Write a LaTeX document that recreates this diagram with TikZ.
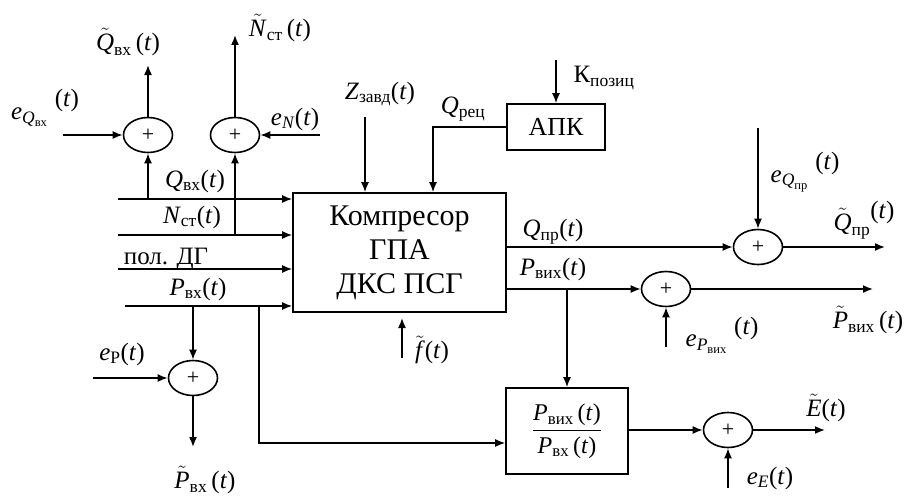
\RequirePackage{fix-cm}
\documentclass[tikz,border=0pt]{standalone}
\usepackage{amsmath}
\usepackage{fontspec}
\setmainfont{Liberation Serif}
\usetikzlibrary{arrows.meta,shapes.geometric}
\newcommand\iv[1]{\textit{#1}}
\newcommand\sv[2]{\iv{#1}$_{\text{#2}}$}
\newcommand\tv[2]{$\tilde{\text{\iv{#1}}}_{\text{#2}}$}
\begin{document}
\begin{tikzpicture}[x=1pt,y=-1pt,
  ln/.style={line width=1.6pt},
  ar/.style={ln,-{Latex[length=10pt,width=8pt]}},
  sumn/.style={ellipse,draw,line width=1.6pt,minimum width=49pt,minimum height=35pt,inner sep=0pt,font=\fontsize{22}{22}\selectfont},
  blk/.style={rectangle,draw,line width=1.6pt,inner sep=0pt},
  lbl/.style={inner sep=0pt,font=\fontsize{25}{28}\selectfont}]
\useasboundingbox (0,0) rectangle (909,495);
% blocks
\node[blk,minimum width=213pt,minimum height=119pt,align=center,font=\fontsize{30}{34}\selectfont] (M) at (399.5,252.5) {Компресор\\ГПА\\ДКС ПСГ};
\node[blk,minimum width=98pt,minimum height=46pt,font=\fontsize{26}{28}\selectfont] (A) at (556,127) {АПК};
\node[blk,minimum width=122pt,minimum height=86pt,font=\fontsize{24}{26}\selectfont] (R) at (567,431) {$\dfrac{\text{\iv{P}$_{\text{вих}}$\,(\iv{t})}}{\text{\iv{P}$_{\text{вх}}$\,(\iv{t})}}$};
% summators
\node[sumn] (S1) at (148,135) {+};
\node[sumn] (S2) at (235,135) {+};
\node[sumn] (S3) at (758,247) {+};
\node[sumn] (S4) at (666,289) {+};
\node[sumn] (S5) at (728,430) {+};
\node[sumn] (S6) at (193,378) {+};
% free ends
\coordinate (q0) at (118,199); \coordinate (q1) at (148,199);
\coordinate (n0) at (118,235); \coordinate (n1) at (235,235);
\coordinate (d0) at (118,269);
\coordinate (p0) at (125,306); \coordinate (p1) at (193,306); \coordinate (p2) at (259,306);
\coordinate (eqi) at (63,135); \coordinate (qvo) at (148,65);
\coordinate (eni) at (320,135); \coordinate (nvo) at (235,35);
\coordinate (z0) at (365,117); \coordinate (qr) at (433,0);
\coordinate (k0) at (556,60);
\coordinate (f0) at (402,358); \coordinate (f1) at (402,318);
\coordinate (qpr) at (885,247); \coordinate (eq) at (758,128);
\coordinate (pvo) at (873,289); \coordinate (ep) at (666,347); \coordinate (pb) at (567,289);
\coordinate (eo) at (825,430); \coordinate (ee) at (728,488);
\coordinate (epi) at (93,378); \coordinate (pvx) at (193,447);
% connectors
\draw[ar] (q0) -- (M.west |- q0);
\draw[ar] (q1) -- (S1.south);
\draw[ar] (n0) -- (M.west |- n0);
\draw[ar] (n1) -- (S2.south);
\draw[ar] (d0) -- (M.west |- d0);
\draw[ar] (p0) -- (M.west |- p0);
\draw[ar] (p1) -- (S6.north);
\draw[ar] (p2) |- ([yshift=-12pt]R.west);
\draw[ar] (eqi) -- (S1.west);
\draw[ar] (S1.north) -- (qvo);
\draw[ar] (eni) -- (S2.east);
\draw[ar] (S2.north) -- (nvo);
\draw[ar] (z0) -- (M.north -| z0);
\draw[ar] (A.west) -| (M.north -| qr);
\draw[ar] (k0) -- (A.north);
\draw[ar] (f0) -- (f1);
\draw[ar] (M.east |- S3.west) -- (S3.west);
\draw[ar] (S3.east) -- (qpr);
\draw[ar] (eq) -- (S3.north);
\draw[ar] (M.east |- S4.west) -- (S4.west);
\draw[ar] (S4.east) -- (pvo);
\draw[ar] (ep) -- (S4.south);
\draw[ar] (pb) -- (R.north);
\draw[ar] (R.east |- S5.west) -- (S5.west);
\draw[ar] (S5.east) -- (eo);
\draw[ar] (ee) -- (S5.south);
\draw[ar] (epi) -- (S6.west);
\draw[ar] (S6.south) -- (pvx);
% labels
\node[lbl] (lQt) at (128,42) {\tv{Q}{вх}\,(\iv{t})};
\node[lbl] (lNt) at (280,28) {\tv{N}{ст}\,(\iv{t})};
\node[lbl] (leQ) at (45,108) {\iv{e}$_{\text{\iv{Q}}_{\text{вх}}}$\;\raisebox{1.1ex}{(\iv{t})}};
\node[lbl] (leN) at (295,119) {\iv{e}$_{\text{\iv{N}}}$(\iv{t})};
\node[lbl] (lQ) at (195,181) {\sv{Q}{вх}(\iv{t})};
\node[lbl] (lN) at (192,217) {\sv{N}{ст}(\iv{t})};
\node[lbl,anchor=south] (lD) at (166,270) {пол. ДГ};
\node[lbl] (lP) at (198,289) {\sv{P}{вх}(\iv{t})};
\node[lbl] (lZ) at (380,94) {\sv{Z}{завд}(\iv{t})};
\node[lbl] (lR) at (463,109) {\sv{Q}{рец}};
\node[lbl] (lK) at (604,78) {К$_{\text{позиц}}$};
\node[lbl] (leQp) at (805,172) {\iv{e}$_{\text{\iv{Q}}_{\text{пр}}}$\;\raisebox{1.1ex}{(\iv{t})}};
\node[lbl] (lQpt) at (864,220) {\tv{Q}{пр}\raisebox{1.1ex}{(\iv{t})}};
\node[lbl] (lQp) at (553,232) {\sv{Q}{пр}(\iv{t})};
\node[lbl] (lPv) at (553,269) {\sv{P}{вих}(\iv{t})};
\node[lbl] (leP) at (722,335) {\iv{e}$_{\text{\iv{P}}_{\text{вих}}}$\;\raisebox{1.1ex}{(\iv{t})}};
\node[lbl] (lPvt) at (868,320) {\tv{P}{вих}\,(\iv{t})};
\node[lbl] (lf) at (432,350) {$\tilde{\text{\iv{f}}}$(\iv{t})};
\node[lbl] (lE) at (826,408) {$\tilde{\text{\iv{E}}}$(\iv{t})};
\node[lbl] (leE) at (770,478) {\iv{e}$_{\text{\iv{E}}}$(\iv{t})};
\node[lbl] (leP0) at (122,354) {\iv{e}$_{\text{P}}$(\iv{t})};
\node[lbl] (lPxt) at (205,480) {\tv{P}{вх}\,(\iv{t})};
\end{tikzpicture}
\end{document}
